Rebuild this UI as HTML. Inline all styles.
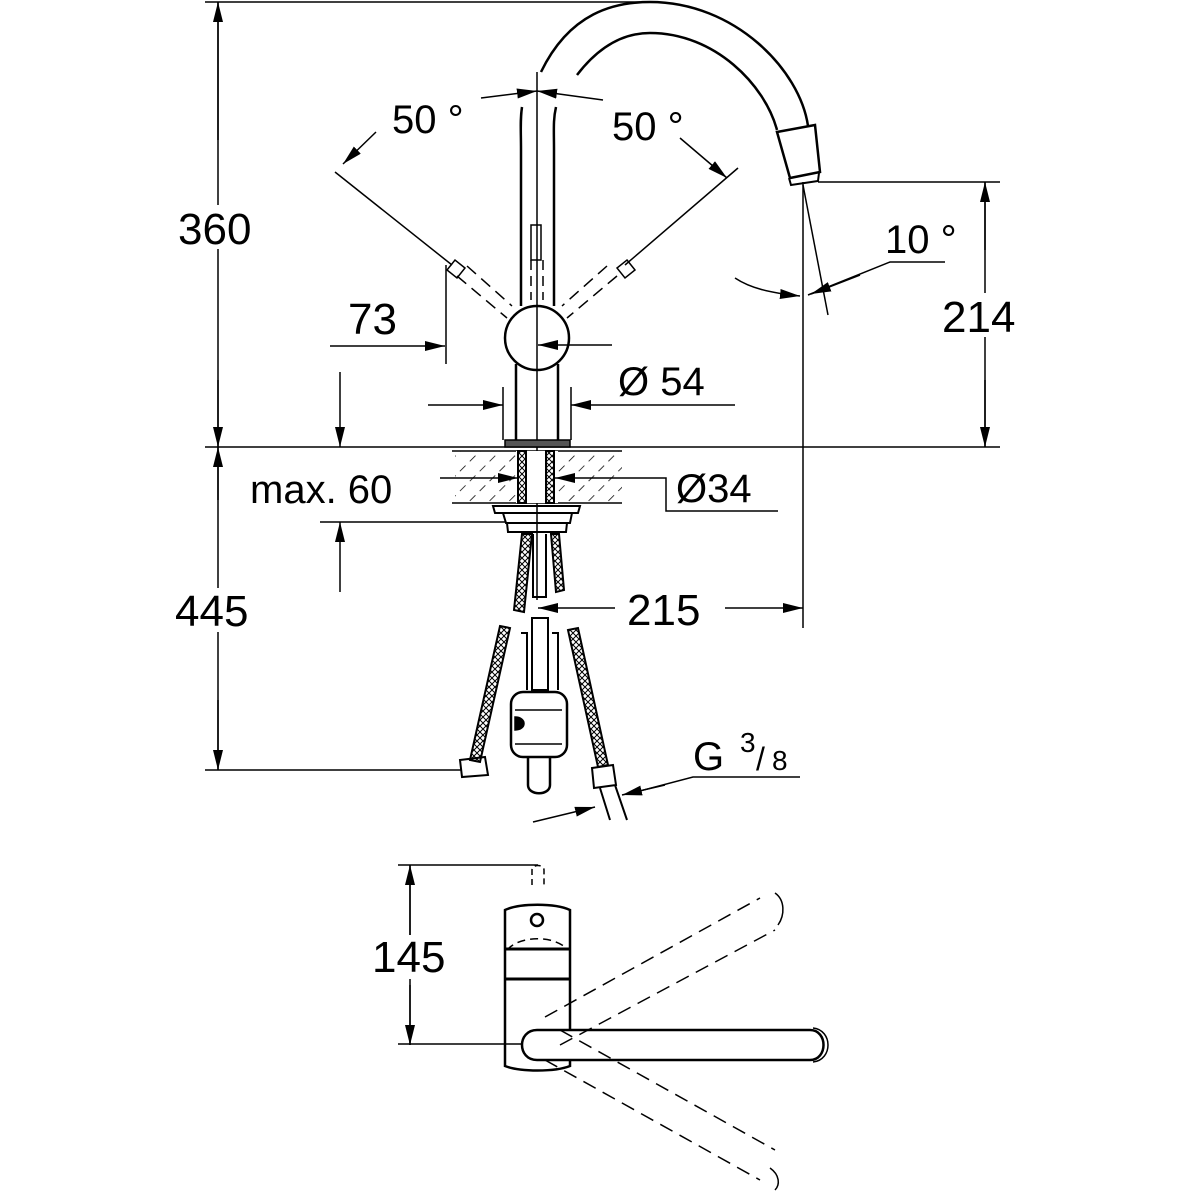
<!DOCTYPE html>
<html><head><meta charset="utf-8"><style>
html,body{margin:0;padding:0;background:#fff;}
svg{display:block}
text{font-family:"Liberation Sans",sans-serif;fill:#000}
</style></head><body>
<svg width="1200" height="1200" viewBox="0 0 1200 1200" xmlns="http://www.w3.org/2000/svg">
<defs>
<marker id="a" viewBox="0 0 20 10" refX="20" refY="5" markerWidth="20" markerHeight="10" markerUnits="userSpaceOnUse" orient="auto">
<path d="M0,0 L20,5 L0,10 z" fill="#000"/></marker>
<pattern id="h" width="14" height="14" patternUnits="userSpaceOnUse" patternTransform="rotate(45)">
<line x1="0" y1="0" x2="0" y2="14" stroke="#000" stroke-width="1.5" stroke-dasharray="8 6"/></pattern>
<pattern id="br" width="6" height="6" patternUnits="userSpaceOnUse">
<path d="M0,0 L6,6 M6,0 L0,6" stroke="#000" stroke-width="1"/></pattern>
</defs>
<g stroke="#000" fill="none" stroke-width="1.5">
<!-- 360 -->
<line x1="205" y1="2" x2="640" y2="2"/>
<line x1="218" y1="2" x2="218" y2="447"/>
<line x1="218" y1="140" x2="218" y2="2" marker-end="url(#a)"/>
<line x1="218" y1="380" x2="218" y2="447" marker-end="url(#a)"/>
<line x1="205" y1="447" x2="1000" y2="447"/>
<!-- 445 -->
<line x1="218" y1="447" x2="218" y2="770"/>
<line x1="218" y1="500" x2="218" y2="447" marker-end="url(#a)"/>
<line x1="218" y1="700" x2="218" y2="770" marker-end="url(#a)"/>
<line x1="205" y1="770" x2="462" y2="770"/>
<!-- center line -->
<line x1="537" y1="72" x2="537" y2="600"/>
<!-- body -->
<path d="M522,107 C520,120 521,130 521,150 L521,306" stroke-width="2.5"/>
<path d="M556,107 C553,120 554,130 554,150 L554,306" stroke-width="2.5"/>
<rect x="531" y="225" width="10" height="35" stroke-width="1.5"/>
<line x1="531" y1="260" x2="531" y2="300" stroke-dasharray="10 6"/>
<line x1="543" y1="260" x2="543" y2="300" stroke-dasharray="10 6"/>
<circle cx="537" cy="338" r="32" stroke-width="2.5"/>
<path d="M516,364 L516,440 M558,364 L558,440" stroke-width="2.5"/>
<rect x="505" y="440" width="65" height="7" fill="#555"/>
<!-- spout -->
<path d="M541,72 C570,12 615,2 650,2 C735,2 800,70 808,126" stroke-width="2.5"/>
<path d="M577,75 C600,45 625,33 650,33 C715,33 765,85 777,130" stroke-width="2.5"/>
<path d="M777,132 L815,125 L820,172 L790,178 Z" stroke-width="2.5"/>
<path d="M789,178 L791,185 L818,181 L819,173" stroke-width="2"/>
<!-- handle angle lines -->
<line x1="335" y1="172" x2="452" y2="265"/>
<line x1="738" y1="168" x2="625" y2="265"/>
<path d="M447,270 L455,260 L465,268 L457,278 Z"/>
<path d="M627,260 L635,270 L625,278 L617,268 Z"/>
<line x1="457" y1="276" x2="507" y2="318" stroke-dasharray="12 7"/>
<line x1="467" y1="266" x2="512" y2="306" stroke-dasharray="12 7"/>
<line x1="617" y1="276" x2="567" y2="318" stroke-dasharray="12 7"/>
<line x1="607" y1="266" x2="562" y2="306" stroke-dasharray="12 7"/>
<!-- 50 arcs -->
<path d="M481,98 L537,91" marker-end="url(#a)"/>
<path d="M603,100 L537,91" marker-end="url(#a)"/>
<line x1="376" y1="132" x2="343" y2="164" marker-end="url(#a)"/>
<line x1="680" y1="138" x2="727" y2="178" marker-end="url(#a)"/>
<!-- 10 deg -->
<line x1="803" y1="182" x2="803" y2="628"/>
<line x1="803" y1="185" x2="828" y2="315"/>
<path d="M735,278 C750,288 770,293 800,296" marker-end="url(#a)"/>
<path d="M945,262 L890,262 L808,295" />
<line x1="860" y1="275" x2="811" y2="294" marker-end="url(#a)"/>
<!-- 214 -->
<line x1="818" y1="182" x2="1000" y2="182"/>
<line x1="985" y1="182" x2="985" y2="447"/>
<line x1="985" y1="250" x2="985" y2="182" marker-end="url(#a)"/>
<line x1="985" y1="380" x2="985" y2="447" marker-end="url(#a)"/>
<!-- 73 -->
<line x1="330" y1="346" x2="445" y2="346" marker-end="url(#a)"/>
<line x1="446" y1="265" x2="446" y2="364"/>
<line x1="612" y1="345" x2="538" y2="345" marker-end="url(#a)"/>
<!-- 54 -->
<line x1="428" y1="405" x2="503" y2="405" marker-end="url(#a)"/>
<line x1="735" y1="405" x2="571" y2="405" marker-end="url(#a)"/>
<line x1="503" y1="387" x2="503" y2="440"/>
<line x1="571" y1="387" x2="571" y2="440"/>
<!-- countertop -->
<rect x="455" y="451" width="167" height="52" fill="url(#h)" stroke="none"/>
<line x1="452" y1="451" x2="622" y2="451"/>
<line x1="452" y1="503" x2="622" y2="503"/>
<rect x="516" y="451" width="42" height="52" fill="#fff" stroke="none"/>
<rect x="518" y="451" width="8" height="52" fill="url(#br)" stroke-width="2"/>
<rect x="546" y="451" width="8" height="52" fill="url(#br)" stroke-width="2"/>
<!-- max 60 -->
<line x1="340" y1="372" x2="340" y2="447" marker-end="url(#a)"/>
<line x1="340" y1="592" x2="340" y2="522" marker-end="url(#a)"/>
<line x1="320" y1="522" x2="505" y2="522"/>
<line x1="440" y1="478" x2="518" y2="478" marker-end="url(#a)"/>
<line x1="595" y1="478" x2="555" y2="478" marker-end="url(#a)"/>
<path d="M595,478 L666,478 L666,511 L778,511"/>
<!-- nut -->
<path d="M493,506 L580,506 L578,513 L495,513 Z" stroke-width="2"/>
<path d="M503,513 L572,513 L570,523 L506,523 Z" stroke-width="2"/>
<path d="M507,523 L567,523 L566,532 L508,532 Z" stroke-width="2"/>
<!-- hoses upper -->
<path d="M522,534 L514,610 L524,612 L532,534 Z" fill="url(#br)" stroke-width="2"/>
<path d="M551,534 L556,592 L564,590 L559,534 Z" fill="url(#br)" stroke-width="2"/>
<path d="M533,534 L533,597 L546,597 L546,534" stroke-width="2"/>
<!-- 215 -->
<line x1="615" y1="608" x2="538" y2="608" marker-end="url(#a)"/>
<line x1="725" y1="608" x2="803" y2="608" marker-end="url(#a)"/>
<!-- lower hoses -->
<path d="M500,626 L510,628 L480,762 L470,760 Z" fill="url(#br)" stroke-width="2"/>
<path d="M568,630 L578,628 L608,765 L598,767 Z" fill="url(#br)" stroke-width="2"/>
<path d="M460,760 L485,757 L488,775 L462,777 Z" stroke-width="2"/>
<path d="M592,768 L613,765 L616,785 L594,788 Z" stroke-width="2"/>
<path d="M600,788 L610,820 M615,785 L627,820" stroke-width="2"/>
<!-- valve -->
<path d="M532,618 L548,618 L548,690 L532,690 Z" stroke-width="2"/>
<path d="M521,633 L527,633 L527,690 M552,633 L558,633 L558,690" stroke-width="2"/>
<rect x="511" y="692" width="56" height="65" rx="12" stroke-width="2.5"/>
<path d="M515,710 L562,710 M515,744 L562,744" stroke-width="1.5"/>
<path d="M515,717 C527,717 527,730 515,730 Z" fill="#000"/>
<path d="M528,757 L528,785 C528,796 550,796 550,785 L550,757" stroke-width="2.5"/>
<!-- G3/8 -->
<path d="M800,777 L693,777 L632,793" />
<line x1="665" y1="785" x2="622" y2="795" marker-end="url(#a)"/>
<line x1="533" y1="822" x2="595" y2="807" marker-end="url(#a)"/>
<!-- bottom view -->
<line x1="398" y1="865" x2="538" y2="865"/>
<line x1="410" y1="865" x2="410" y2="1045"/>
<line x1="410" y1="935" x2="410" y2="865" marker-end="url(#a)"/>
<line x1="410" y1="985" x2="410" y2="1045" marker-end="url(#a)"/>
<line x1="398" y1="1044" x2="540" y2="1044"/>
<path d="M532,885 L532,870 C532,864 544,864 544,870 L544,885" stroke-dasharray="6 4"/>
<path d="M505,910 L505,1066 C520,1072 555,1072 570,1066 L570,910 C555,903 520,903 505,910 Z" stroke-width="2.5"/>
<circle cx="537" cy="920" r="6" stroke-width="2.5"/>
<path d="M507,950 C520,935 555,935 568,950" stroke-dasharray="8 5"/>
<line x1="506" y1="949" x2="570" y2="949" stroke-width="3"/>
<line x1="506" y1="979" x2="570" y2="979" stroke-width="3"/>
<path d="M537,1030 L810,1030 C828,1030 828,1060 810,1060 L537,1060 C517,1060 517,1030 537,1030 Z" stroke-width="2.5" fill="#fff"/>
<path d="M813,1028 C833,1030 833,1060 813,1062" stroke-width="1.5"/>
<path d="M545,1017 L760,898 M560,1045 L775,930" stroke-dasharray="14 8"/>
<path d="M545,1060 L760,1180 M560,1030 L775,1150" stroke-dasharray="14 8"/>
<path d="M775,893 C785,900 785,915 778,925" stroke-width="1.5"/>
<path d="M770,1168 C780,1175 780,1185 775,1190" stroke-width="1.5"/>
</g>
<g fill="#fff">
<rect x="176" y="205" width="88" height="44"/>
<rect x="938" y="293" width="90" height="44"/>
<rect x="173" y="588" width="90" height="44"/>
<rect x="370" y="935" width="88" height="44"/>
</g>
<g font-size="44">
<text x="178" y="244">360</text>
<text x="942" y="332">214</text>
<text x="175" y="626">445</text>
<text x="348" y="334">73</text>
<text x="627" y="625">215</text>
<text x="372" y="972">145</text>
</g>
<g font-size="40">
<text x="392" y="133">50 °</text>
<text x="612" y="140">50 °</text>
<text x="885" y="253">10 °</text>
<text x="618" y="395">Ø 54</text>
<text x="250" y="503">max. 60</text>
<text x="676" y="502">Ø34</text>
<text x="693" y="770">G</text>
<text x="740" y="752" font-size="28">3</text>
<text x="756" y="770" font-size="32">/</text>
<text x="772" y="770" font-size="28">8</text>
</g>
</svg>
</body></html>
